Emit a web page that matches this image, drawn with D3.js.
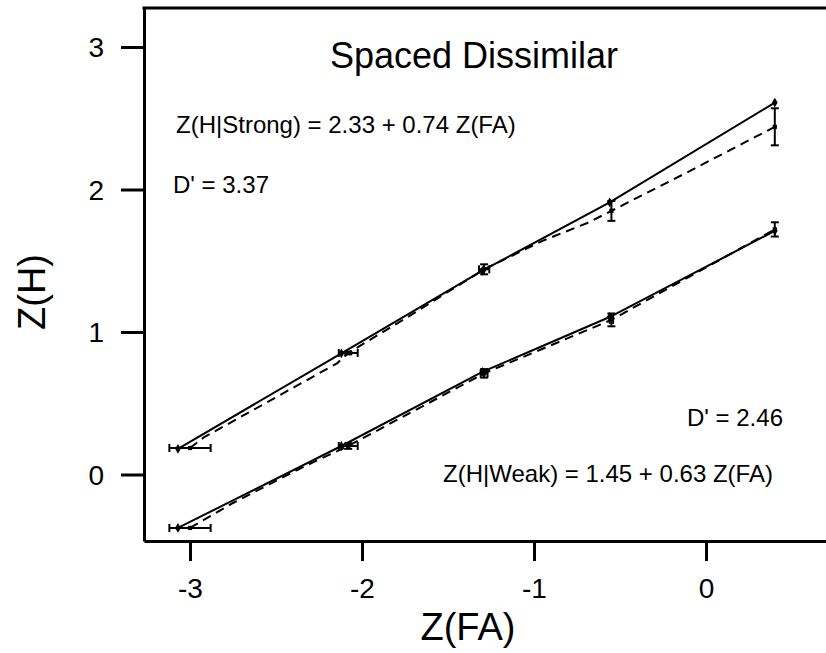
<!DOCTYPE html>
<html>
<head>
<meta charset="utf-8">
<script src="https://cdn.jsdelivr.net/npm/d3@7/dist/d3.min.js"></script>
<style>
  body { margin: 0; background: #fff; }
  svg { font-family: "Liberation Sans", Arial, sans-serif; }
</style>
</head>
<body>
<div id="chart"></div>
<script>
// values
const xTicks = [-3, -2, -1, 0];
const yTicks = [0, 1, 2, 3];

// model (solid) points
const strongFitX = [-3.07, -2.12, -1.30, -0.56, 0.40];
const strongFitY = [0.18, 0.85, 1.43, 1.91, 2.61];
const weakFitX = [-3.07, -2.12, -1.30, -0.56, 0.40];
const weakFitY = [-0.375, 0.20, 0.72, 1.105, 1.71];

// observed (dashed) points with error bars
const strongObsX = [-3.00, -2.08, -1.29, -0.55, 0.40];
const strongObsY = [0.186, 0.853, 1.44, 1.85, 2.44];
const strongObsXErr = [0.12, 0.055, 0.03, 0.0, 0.0];
const strongObsYErr = [0.0, 0.01, 0.035, 0.07, 0.13];
const weakObsX = [-3.00, -2.08, -1.29, -0.55, 0.40];
const weakObsY = [-0.375, 0.20, 0.71, 1.085, 1.72];
const weakObsXErr = [0.12, 0.055, 0.02, 0.01, 0.0];
const weakObsYErr = [0.0, 0.02, 0.03, 0.045, 0.05];

// dashed traces (as they bend between the observed points)
const strongDash = [[-3.0, 0.186], [-2.92, 0.26], [-2.145, 0.78], [-2.08, 0.853], [-1.7, 1.13],
  [-1.29, 1.44], [-0.95, 1.64], [-0.69, 1.765], [-0.55, 1.85], [-0.11, 2.12], [0.40, 2.44]];
const weakDash = [[-3.0, -0.375], [-2.75, -0.2], [-2.38, 0.03], [-2.26, 0.1], [-2.08, 0.2],
  [-1.29, 0.71], [-0.55, 1.085], [0.40, 1.72]];

const W = 826, H = 653;
const plotLeft = 144, plotTop = 8, plotRight = 836, plotBottom = 541;

const svg = d3.select('#chart').append('svg')
    .attr('width', W)
    .attr('height', H);

// -3 sits at x=190, 0 at x=706; y=0 at 474.5, y=3 at 47
const x = d3.scaleLinear()
    .domain([-3 + (plotLeft - 190) / 172, -3 + (plotRight - 190) / 172])
    .range([plotLeft, plotRight]);
const y = d3.scaleLinear()
    .domain([(474.5 - plotBottom) / 142.5, (474.5 - plotTop) / 142.5])
    .range([plotBottom, plotTop]);

// axes (plain hyphen for the minus sign, as in the original)
const fmt = d => String(d);
const xAxis = svg.append('g')
    .attr('transform', `translate(0,${plotBottom})`)
    .call(d3.axisBottom(x).tickValues(xTicks).tickFormat(fmt)
        .tickSizeOuter(0).tickSizeInner(20).tickPadding(17));
const yAxis = svg.append('g')
    .attr('transform', `translate(${plotLeft},0)`)
    .call(d3.axisLeft(y).tickValues(yTicks).tickFormat(fmt)
        .tickSizeOuter(0).tickSizeInner(23).tickPadding(17));

[xAxis, yAxis].forEach(g => {
    g.select('.domain').attr('stroke', '#000').attr('stroke-width', 3);
    g.selectAll('.tick line').attr('stroke', '#000').attr('stroke-width', 3);
    g.selectAll('.tick text').attr('fill', '#000').attr('font-size', 28)
        .attr('font-family', '"Liberation Sans", Arial, sans-serif');
});
yAxis.selectAll('.tick text').attr('dy', '0.35em');

svg.append('line')
    .attr('x1', plotLeft - 1.5).attr('x2', plotRight)
    .attr('y1', plotTop).attr('y2', plotTop)
    .attr('stroke', '#000').attr('stroke-width', 3);

// axis titles
svg.append('text')
    .attr('x', 468).attr('y', 640)
    .attr('text-anchor', 'middle')
    .attr('font-size', 38)
    .text('Z(FA)');
svg.append('text')
    .attr('transform', 'translate(45,292) rotate(-90)')
    .attr('text-anchor', 'middle')
    .attr('font-size', 38)
    .text('Z(H)');

// lines
const line = d3.line().x(d => x(d[0])).y(d => y(d[1]));

function drawSeries(fitX, fitY, obsX, obsY, xErr, yErr, dash) {
    const fit = fitX.map((v, i) => [v, fitY[i]]);
    svg.append('path')
        .datum(fit)
        .attr('d', line)
        .attr('fill', 'none')
        .attr('stroke', '#000')
        .attr('stroke-width', 2);
    svg.append('path')
        .datum(dash)
        .attr('d', line)
        .attr('fill', 'none')
        .attr('stroke', '#000')
        .attr('stroke-width', 2)
        .attr('stroke-dasharray', '9,6');

    const obs = obsX.map((v, i) => ({ x: v, y: obsY[i], ex: xErr[i], ey: yErr[i] }));
    const g = svg.append('g').attr('stroke', '#000').attr('stroke-width', 2);
    obs.forEach(d => {
        if (d.ex > 0) {
            g.append('line')
                .attr('x1', x(d.x - d.ex)).attr('x2', x(d.x + d.ex))
                .attr('y1', y(d.y)).attr('y2', y(d.y));
            [d.x - d.ex, d.x + d.ex].forEach(e => {
                g.append('line')
                    .attr('x1', x(e)).attr('x2', x(e))
                    .attr('y1', y(d.y) - 4).attr('y2', y(d.y) + 4);
            });
        }
        if (d.ey > 0) {
            g.append('line')
                .attr('x1', x(d.x)).attr('x2', x(d.x))
                .attr('y1', y(d.y - d.ey)).attr('y2', y(d.y + d.ey));
            [d.y - d.ey, d.y + d.ey].forEach(e => {
                g.append('line')
                    .attr('x1', x(d.x) - 4).attr('x2', x(d.x) + 4)
                    .attr('y1', y(e)).attr('y2', y(e));
            });
        }
    });

    svg.append('g').selectAll('path')
        .data(obs)
        .join('path')
        .attr('transform', d => `translate(${x(d.x)},${y(d.y)})`)
        .attr('d', d3.symbol(d3.symbolSquare, 18))
        .attr('fill', '#000');

    svg.append('g').selectAll('path')
        .data(fit)
        .join('path')
        .attr('transform', d => `translate(${x(d[0])},${y(d[1])})`)
        .attr('d', d3.symbol(d3.symbolDiamond, 28))
        .attr('fill', '#000');
}

drawSeries(strongFitX, strongFitY, strongObsX, strongObsY, strongObsXErr, strongObsYErr, strongDash);
drawSeries(weakFitX, weakFitY, weakObsX, weakObsY, weakObsXErr, weakObsYErr, weakDash);

// annotations
svg.append('text')
    .attr('x', 474).attr('y', 68)
    .attr('text-anchor', 'middle')
    .attr('font-size', 36)
    .text('Spaced Dissimilar');

const notes = [
    { t: 'Z(H|Strong) = 2.33 + 0.74 Z(FA)', x: 176, y: 133 },
    { t: "D' = 3.37", x: 173, y: 193 },
    { t: "D' = 2.46", x: 687, y: 426 },
    { t: 'Z(H|Weak) = 1.45 + 0.63 Z(FA)', x: 443, y: 482 }
];
svg.append('g').selectAll('text')
    .data(notes)
    .join('text')
    .attr('x', d => d.x)
    .attr('y', d => d.y)
    .attr('font-size', 24)
    .text(d => d.t);
</script>
</body>
</html>
